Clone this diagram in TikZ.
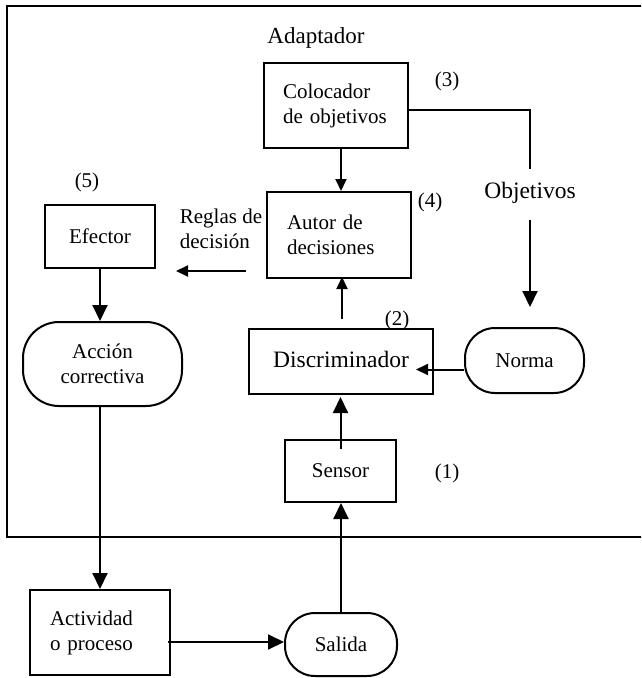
\documentclass[tikz,border=0pt]{standalone}
\usepackage{fontspec}
\setmainfont{Liberation Serif}
\usetikzlibrary{arrows.meta}

\tikzset{
  txt/.style={font=\fontsize{21}{25}\selectfont},
  bigtxt/.style={font=\fontsize{23.5}{27}\selectfont},
  box/.style={draw, line width=2pt, inner sep=0pt, txt, anchor=center},
  rbox/.style={box, rounded corners=#1},
  lbl/.style={inner sep=0pt, txt, anchor=center},
  arrB/.style={line width=2pt, -{Triangle[length=16pt,width=15pt]}},
  arrS/.style={line width=2pt, -{Triangle[length=12pt,width=11pt]}},
  plain/.style={line width=2pt}
}

\begin{document}
\begin{tikzpicture}[x=1pt,y=-1pt]
  \useasboundingbox (0,0) rectangle (641,678);
  \clip (0,0) rectangle (641,678);

  % adaptor frame (open to the right)
  \draw[line width=2.4pt] (7,6) rectangle (680,537);
  \node[lbl, font=\fontsize{23}{27}\selectfont] (adaptador) at (316,38) {Adaptador};

  % blocks
  \node[box, minimum width=144pt, minimum height=85pt, text width=106pt, align=left]
    (colocador) at (336,105.5) {Colocador\\de objetivos};
  \node[box, minimum width=144pt, minimum height=86pt, text width=104pt, align=left]
    (autor) at (339,235) {Autor de\\decisiones};
  \node[box, minimum width=110pt, minimum height=63pt] (efector) at (100,236.5) {Efector};
  \node[rbox=36pt, minimum width=159pt, minimum height=84pt, align=center]
    (accion) at (102.5,364) {Acción\\correctiva};
  \node[box, bigtxt, minimum width=184pt, minimum height=65pt] (discr) at (341,361.5)
    {\raisebox{4pt}{Discriminador}};
  \node[rbox=30pt, minimum width=119pt, minimum height=65pt] (norma) at (524.5,360.5) {Norma};
  \node[box, minimum width=111pt, minimum height=62pt] (sensor) at (340.5,471) {Sensor};
  \node[rbox=30pt, minimum width=112pt, minimum height=63pt] (salida) at (341,644.5) {Salida};
  \node[box, minimum width=140pt, minimum height=85pt, text width=100pt, align=left]
    (actividad) at (100,632.5) {Actividad\\o proceso};

  % free labels
  \node[lbl, bigtxt] (objetivos) at (530,193) {Objetivos};
  \node[lbl, align=left] (reglas) at (221,229) {Reglas de\\decisión};
  \node[lbl] (n3) at (447,81) {(3)};
  \node[lbl] (n4) at (430,202) {(4)};
  \node[lbl] (n5) at (87,182) {(5)};
  \node[lbl] (n2) at (397,320) {(2)};
  \node[lbl] (n1) at (447,473) {(1)};

  % connectors
  \draw[arrS] ([xshift=5pt]colocador.south) -- ([xshift=2pt]autor.north);
  \draw[plain] ([yshift=-4.5pt]colocador.east) -| ([yshift=13pt]objetivos.north);
  \draw[arrB, shorten <=16pt, shorten >=20pt] (objetivos.south) -- (objetivos.south |- norma.north);
  \draw[arrS, shorten <=20pt, shorten >=20pt] ([yshift=-36pt]autor.west) -- ([yshift=-36pt]autor.west -| efector.east);
  \draw[arrS, shorten <=9pt, shorten >=-2pt] ([xshift=1pt]discr.north) -- ([xshift=1pt]discr.north |- autor.south);
  \draw[arrS, shorten >=-18pt] ([yshift=-9pt]norma.west) -- ([yshift=-9pt]norma.west -| discr.east);
  \draw[arrB, shorten <=-10pt, shorten >=2pt] (sensor.north) -- (sensor.north |- discr.south);
  \draw[arrB] (salida.north) -- (salida.north |- sensor.south);
  \draw[arrB] (efector.south) -- (efector.south |- accion.north);
  \draw[arrB] (actividad.north |- accion.south) -- (actividad.north);
  \draw[arrB, shorten <=-3pt] ([yshift=-9.5pt]actividad.east) -- ([yshift=-9.5pt]actividad.east -| salida.west);
\end{tikzpicture}
\end{document}
